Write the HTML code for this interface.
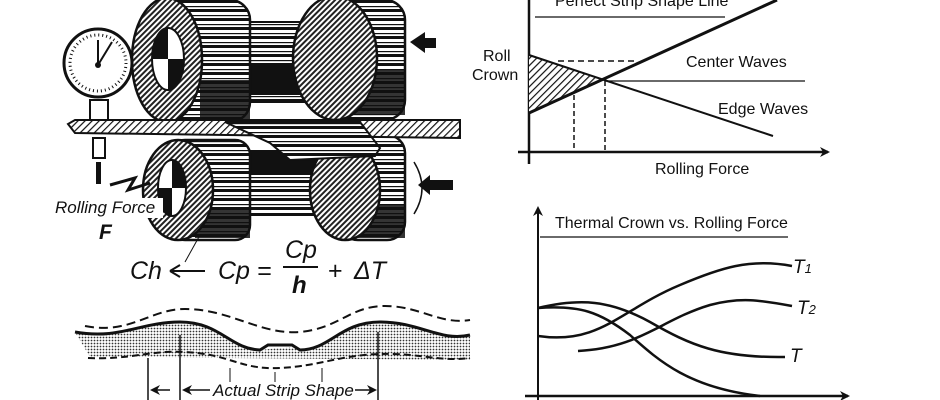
<!DOCTYPE html>
<html><head><meta charset="utf-8"><style>
html,body{margin:0;padding:0;background:#fff;width:940px;height:400px;overflow:hidden}
svg{display:block}
text{font-family:"Liberation Sans",sans-serif;fill:#111}
</style></head><body>
<svg width="940" height="400" viewBox="0 0 940 400" xmlns="http://www.w3.org/2000/svg">
<defs>
<pattern id="hat" width="4" height="4" patternUnits="userSpaceOnUse" patternTransform="rotate(45)">
<rect width="4" height="4" fill="#fff"/><rect width="2" height="4" fill="#222"/></pattern>
<pattern id="hat2" width="5" height="5" patternUnits="userSpaceOnUse" patternTransform="rotate(45)">
<rect width="5" height="5" fill="#fff"/><rect width="1.2" height="5" fill="#111"/></pattern>
<pattern id="str" width="8" height="9" patternUnits="userSpaceOnUse">
<rect width="8" height="9" fill="#fff"/><rect y="0" width="8" height="3" fill="#111"/><rect y="6" width="8" height="1.2" fill="#111"/></pattern>
<pattern id="dot" width="3" height="3" patternUnits="userSpaceOnUse">
<rect width="3" height="3" fill="#fff"/><circle cx="1.5" cy="1.5" r="0.9" fill="#333"/></pattern>
<marker id="ar" markerWidth="10" markerHeight="10" refX="8" refY="5" orient="auto" markerUnits="userSpaceOnUse"><path d="M0,0 L10,5 L0,10 L3,5z" fill="#111"/></marker>
</defs>

<!-- TOP ROLL -->
<rect x="245" y="22" width="60" height="80" fill="url(#str)" stroke="#111" stroke-width="2"/>
<rect x="245" y="65" width="60" height="30" fill="#111"/>
<rect x="335" y="0" width="70" height="120" rx="20" fill="url(#str)" stroke="#111" stroke-width="2.5"/>
<rect x="335" y="70" width="70" height="45" fill="#111" opacity="0.85"/>
<ellipse cx="335" cy="58" rx="42" ry="62" fill="url(#hat)" stroke="#111" stroke-width="2.5"/>
<rect x="165" y="0" width="85" height="122" rx="20" fill="url(#str)" stroke="#111" stroke-width="2.5"/>
<rect x="200" y="80" width="50" height="40" fill="#111" opacity="0.85"/>
<ellipse cx="167" cy="60" rx="35" ry="62" fill="url(#hat)" stroke="#111" stroke-width="2.5"/>
<ellipse cx="168" cy="59" rx="16" ry="31" fill="#fff" stroke="#111" stroke-width="2"/>
<path d="M168,59 L168,28 A16,31 0 0 0 152,59z M168,59 L168,90 A16,31 0 0 0 184,59z" fill="#111"/>
<path d="M410,42 L425,32 L425,38 L436,38 L436,48 L425,48 L425,53z" fill="#111"/>

<!-- GAUGE -->
<rect x="90" y="100" width="18" height="22" fill="#fff" stroke="#111" stroke-width="2"/>
<rect x="93" y="138" width="12" height="20" fill="#fff" stroke="#111" stroke-width="2"/>
<rect x="96" y="162" width="5" height="22" fill="#111"/>
<circle cx="98" cy="63" r="34" fill="#fff" stroke="#111" stroke-width="3"/>
<circle cx="98" cy="63" r="28" fill="none" stroke="#111" stroke-width="3" stroke-dasharray="1 3"/>
<line x1="98" y1="65" x2="98" y2="40" stroke="#111" stroke-width="2"/>
<line x1="98" y1="65" x2="112" y2="42" stroke="#111" stroke-width="2"/>
<circle cx="98" cy="65" r="3" fill="#111"/>

<!-- BOTTOM ROLL -->
<rect x="245" y="160" width="110" height="55" fill="url(#str)" stroke="#111" stroke-width="2"/>
<rect x="250" y="150" width="100" height="25" fill="#111"/>
<rect x="340" y="135" width="65" height="105" rx="18" fill="url(#str)" stroke="#111" stroke-width="2.5"/>
<rect x="340" y="205" width="65" height="33" fill="#111" opacity="0.85"/>
<ellipse cx="345" cy="190" rx="35" ry="50" fill="url(#hat)" stroke="#111" stroke-width="2.5"/>
<rect x="170" y="140" width="80" height="100" rx="15" fill="url(#str)" stroke="#111" stroke-width="2.5"/>
<rect x="195" y="210" width="55" height="28" fill="#111" opacity="0.85"/>
<ellipse cx="178" cy="190" rx="35" ry="50" fill="url(#hat)" stroke="#111" stroke-width="2.5"/>
<ellipse cx="172" cy="188" rx="14" ry="28" fill="#fff" stroke="#111" stroke-width="2"/>
<path d="M172,188 L172,160 A14,28 0 0 1 186,188z M172,188 L172,216 A14,28 0 0 1 158,188z" fill="#111"/>
<path d="M414,162 Q430,188 414,214" fill="none" stroke="#111" stroke-width="1.5"/>
<path d="M418,185 L430,175 L430,180 L453,180 L453,190 L430,190 L430,195z" fill="#111"/>
<path d="M110,185 L135,178 L128,190 L150,183" fill="none" stroke="#111" stroke-width="3"/>

<!-- STRIP -->
<path d="M75,120 L460,120 L460,138 L75,133 L68,124z" fill="url(#hat2)" stroke="#111" stroke-width="2"/>
<path d="M225,122 L360,122 L380,148 L375,156 L290,160 L270,143z" fill="url(#str)" stroke="#111" stroke-width="2"/>

<!-- LABELS LEFT -->
<rect x="53" y="198" width="110" height="20" fill="#fff"/>
<text x="55" y="213" font-size="17" font-style="italic">Rolling Force</text>
<text x="99" y="239" font-size="21" font-style="italic" font-weight="bold">F</text>
<line x1="200" y1="235" x2="185" y2="262" stroke="#111" stroke-width="1"/>
<text x="130" y="279" font-size="25" font-style="italic">Ch</text>
<line x1="172" y1="271" x2="205" y2="271" stroke="#111" stroke-width="2"/>
<path d="M170,271 L180,265 M170,271 L180,277" stroke="#111" stroke-width="2"/>
<text x="218" y="279" font-size="25" font-style="italic">Cp =</text>
<text x="285" y="258" font-size="25" font-style="italic">Cp</text>
<line x1="283" y1="267" x2="318" y2="267" stroke="#111" stroke-width="2"/>
<text x="292" y="293" font-size="24" font-style="italic" font-weight="bold">h</text>
<text x="328" y="279" font-size="25">+</text>
<text x="354" y="279" font-size="25" font-style="italic">ΔT</text>

<!-- WAVE -->
<path d="M75,332 C120,340 140,322 180,322 C220,322 230,349 260,350 L290,347 C330,355 335,322 380,322 C410,322 440,342 470,335 L470,360 L90,357z" fill="url(#dot)"/>
<path d="M75,332 C120,340 140,322 180,322 C220,322 230,349 260,350 L268,345 L292,345 L300,350 C330,350 340,322 380,322 C420,322 440,342 470,335" fill="none" stroke="#111" stroke-width="3"/>
<path d="M85,326 C130,335 150,309 185,309 C230,309 260,335 300,332 C340,328 350,306 385,306 C420,306 440,325 470,320" fill="none" stroke="#111" stroke-width="2" stroke-dasharray="9 5"/>
<path d="M88,358 C130,360 150,350 185,352 C230,354 240,370 280,368 C320,366 340,355 380,354 C420,353 440,362 470,358" fill="none" stroke="#111" stroke-width="2" stroke-dasharray="7 4"/>
<line x1="148" y1="358" x2="148" y2="400" stroke="#111" stroke-width="1.5"/>
<line x1="180" y1="335" x2="180" y2="400" stroke="#111" stroke-width="1.5"/>
<line x1="378" y1="332" x2="378" y2="400" stroke="#111" stroke-width="1.5"/>
<line x1="230" y1="368" x2="230" y2="382" stroke="#111"/><line x1="275" y1="372" x2="275" y2="382" stroke="#111"/><line x1="322" y1="368" x2="322" y2="382" stroke="#111"/>
<line x1="170" y1="390" x2="152" y2="390" stroke="#111" stroke-width="1.5" marker-end="url(#ar)"/>
<line x1="210" y1="390" x2="184" y2="390" stroke="#111" stroke-width="1.5" marker-end="url(#ar)"/>
<line x1="355" y1="390" x2="375" y2="390" stroke="#111" stroke-width="1.5" marker-end="url(#ar)"/>
<text x="213" y="396" font-size="17" font-style="italic">Actual Strip Shape</text>

<!-- CHART 1 -->
<line x1="529" y1="0" x2="529" y2="164" stroke="#111" stroke-width="2.5"/>
<line x1="518" y1="152" x2="828" y2="152" stroke="#111" stroke-width="2.5" marker-end="url(#ar)"/>
<text x="555" y="6" font-size="16">Perfect Strip Shape Line</text>
<line x1="535" y1="17" x2="725" y2="17" stroke="#111" stroke-width="1.2"/>
<path d="M529,55 L605,80 L529,113z" fill="url(#hat2)" stroke="none"/>
<line x1="529" y1="113" x2="777" y2="0" stroke="#111" stroke-width="3"/>
<line x1="529" y1="55" x2="773" y2="136" stroke="#111" stroke-width="2"/>
<line x1="558" y1="61" x2="635" y2="61" stroke="#111" stroke-width="1.5" stroke-dasharray="6 4"/>
<line x1="605" y1="81" x2="805" y2="81" stroke="#111" stroke-width="1.2"/>
<line x1="574" y1="95" x2="574" y2="152" stroke="#111" stroke-width="1.5" stroke-dasharray="5 3"/>
<line x1="605" y1="81" x2="605" y2="152" stroke="#111" stroke-width="1.5" stroke-dasharray="5 3"/>
<text x="483" y="61" font-size="16">Roll</text>
<text x="472" y="80" font-size="16">Crown</text>
<text x="686" y="67" font-size="16">Center Waves</text>
<text x="718" y="114" font-size="16">Edge Waves</text>
<text x="655" y="174" font-size="16">Rolling Force</text>

<!-- CHART 2 -->
<line x1="538" y1="400" x2="538" y2="208" stroke="#111" stroke-width="2" marker-end="url(#ar)"/>
<line x1="525" y1="396" x2="848" y2="396" stroke="#111" stroke-width="2.5" marker-end="url(#ar)"/>
<text x="555" y="228" font-size="16">Thermal Crown vs. Rolling Force</text>
<line x1="540" y1="237" x2="788" y2="237" stroke="#111" stroke-width="1.2"/>
<path d="M538,336 C600,345 620,310 680,285 C720,268 750,258 792,266" fill="none" stroke="#111" stroke-width="2.5"/>
<path d="M578,351 C640,348 660,320 710,305 C740,297 760,300 792,306" fill="none" stroke="#111" stroke-width="2.5"/>
<path d="M538,308 C580,298 610,300 650,322 C690,345 720,358 785,357" fill="none" stroke="#111" stroke-width="2.5"/>
<path d="M538,308 C580,305 600,312 630,335 C660,362 690,388 760,396" fill="none" stroke="#111" stroke-width="2.5"/>
<text x="793" y="273" font-size="19" font-style="italic">T<tspan font-size="13">1</tspan></text>
<text x="797" y="314" font-size="19" font-style="italic">T<tspan font-size="13">2</tspan></text>
<text x="790" y="362" font-size="19" font-style="italic">T</text>
</svg>
</body></html>
